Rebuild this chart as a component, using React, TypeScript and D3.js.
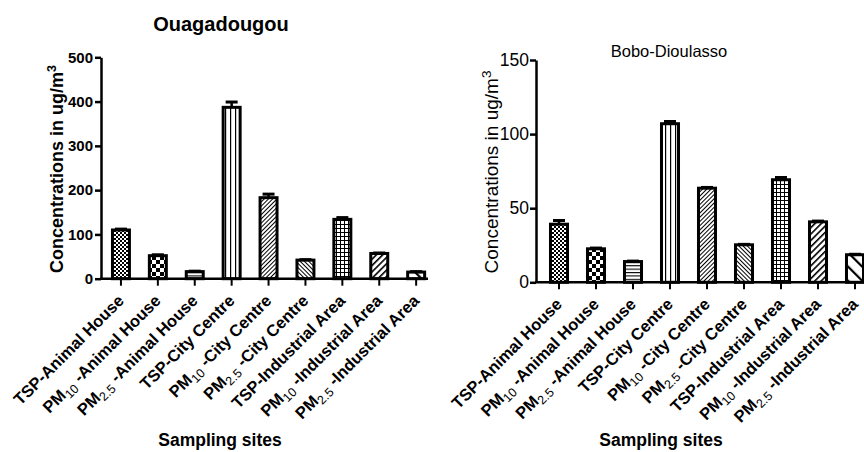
import React, { useEffect, useRef } from "react";
import * as d3 from "d3";

// sampling sites (same order in both cities)
const sites = [
  "TSP-Animal House",
  "PM10 -Animal House",
  "PM2.5 -Animal House",
  "TSP-City Centre",
  "PM10 -City Centre",
  "PM2.5 -City Centre",
  "TSP-Industrial Area",
  "PM10 -Industrial Area",
  "PM2.5 -Industrial Area",
];

// Ouagadougou concentrations (ug/m3) and SEM
const ouagaMeans = [110, 52, 16, 387, 183, 42, 134, 57, 15];
const ouagaErrs = [2, 2, 1, 12, 8, 1, 4, 1, 1];
const ouagaTicks = [0, 100, 200, 300, 400, 500];

// Bobo-Dioulasso concentrations (ug/m3) and SEM
const boboMeans = [39.2, 22.6, 14, 107, 63.5, 25.3, 69.2, 40.8, 18.6];
const boboErrs = [2.5, 0.5, 0.3, 1.5, 0.5, 0.3, 1.5, 0.5, 0.3];
const boboTicks = [0, 50, 100, 150];

const patternIds = ["pFineChk", "pBigChk", "pHLines", "pVLines", "pDiagF", "pBackF", "pGrid", "pDiagM", "pBackW"];

const FONT = "'Liberation Sans', Arial, Helvetica, sans-serif";

function splitLabel(s) {
  const m = s.match(/^PM(10|2\.5)(.*)$/);
  if (!m) return { head: s, sub: "", tail: "" };
  return { head: "PM", sub: m[1], tail: m[2] };
}

function addPatterns(defs) {
  const mk = (id, w, h, rot) => {
    const p = defs
      .append("pattern")
      .attr("id", id)
      .attr("patternUnits", "userSpaceOnUse")
      .attr("width", w)
      .attr("height", h);
    if (rot) p.attr("patternTransform", `rotate(${rot})`);
    p.append("rect").attr("width", w).attr("height", h).attr("fill", "#fff");
    return p;
  };
  let p = mk("pFineChk", 4, 4);
  p.append("rect").attr("width", 2).attr("height", 2).attr("fill", "#000");
  p.append("rect").attr("x", 2).attr("y", 2).attr("width", 2).attr("height", 2).attr("fill", "#000");

  p = mk("pBigChk", 8, 8);
  p.append("rect").attr("width", 4).attr("height", 4).attr("fill", "#000");
  p.append("rect").attr("x", 4).attr("y", 4).attr("width", 4).attr("height", 4).attr("fill", "#000");

  p = mk("pHLines", 4, 3.4);
  p.append("rect").attr("width", 4).attr("height", 1.1).attr("fill", "#000");

  p = mk("pVLines", 5, 4);
  p.append("rect").attr("width", 1.2).attr("height", 4).attr("fill", "#000");

  p = mk("pDiagF", 3, 3, 45);
  p.append("rect").attr("width", 1).attr("height", 3).attr("fill", "#000");

  p = mk("pBackF", 3, 3, -45);
  p.append("rect").attr("width", 1).attr("height", 3).attr("fill", "#000");

  p = mk("pGrid", 4, 4);
  p.append("rect").attr("width", 4).attr("height", 1).attr("fill", "#000");
  p.append("rect").attr("width", 1).attr("height", 4).attr("fill", "#000");

  p = mk("pDiagM", 4.5, 4.5, 45);
  p.append("rect").attr("width", 1.6).attr("height", 4.5).attr("fill", "#000");

  p = mk("pBackW", 10, 10, -45);
  p.append("rect").attr("width", 2.2).attr("height", 10).attr("fill", "#000");
}

function drawPanel(svg, cfg) {
  const { means, errs, ticks, yMax, axisX, y0, yTop, xStart, step, xEnd, bold } = cfg;
  const g = svg.append("g");

  const x = d3
    .scaleBand()
    .domain(sites)
    .range([xStart, xStart + step * sites.length])
    .paddingInner(0.54)
    .paddingOuter(0.27);
  const y = d3.scaleLinear().domain([0, yMax]).range([y0, yTop]);

  // bars
  g.selectAll("rect.bar")
    .data(sites)
    .enter()
    .append("rect")
    .attr("class", "bar")
    .attr("x", (d) => x(d))
    .attr("width", x.bandwidth())
    .attr("y", (d, i) => y(means[i]))
    .attr("height", (d, i) => y0 - y(means[i]))
    .attr("fill", (d, i) => `url(#${patternIds[i]})`)
    .attr("stroke", "#000")
    .attr("stroke-width", 3);

  // error bars
  sites.forEach((d, i) => {
    const cx = x(d) + x.bandwidth() / 2;
    g.append("line")
      .attr("x1", cx)
      .attr("x2", cx)
      .attr("y1", y(means[i]))
      .attr("y2", y(means[i] + errs[i]))
      .attr("stroke", "#000")
      .attr("stroke-width", 2.5);
    g.append("line")
      .attr("x1", cx - 6)
      .attr("x2", cx + 6)
      .attr("y1", y(means[i] + errs[i]))
      .attr("y2", y(means[i] + errs[i]))
      .attr("stroke", "#000")
      .attr("stroke-width", 3);
  });

  // y axis
  const yAxis = g
    .append("g")
    .attr("transform", `translate(${axisX},0)`)
    .call(d3.axisLeft(y).tickValues(ticks).tickSize(6).tickSizeOuter(0).tickPadding(bold ? 2 : 1));
  yAxis.select(".domain").attr("stroke-width", 2.5);
  yAxis.selectAll(".tick line").attr("stroke-width", 2.5);
  yAxis
    .selectAll(".tick text")
    .attr("font-family", FONT)
    .attr("font-size", bold ? 15 : 17.5)
    .attr("font-weight", bold ? "bold" : "normal")
    .attr("fill", "#000");

  // x axis
  g.append("line")
    .attr("x1", axisX - 1)
    .attr("x2", xEnd)
    .attr("y1", y0)
    .attr("y2", y0)
    .attr("stroke", "#000")
    .attr("stroke-width", 2.5);
  const xAxis = g
    .append("g")
    .attr("transform", `translate(0,${y0})`)
    .call(d3.axisBottom(x).tickSize(7).tickSizeOuter(0).tickFormat(() => ""));
  xAxis.select(".domain").remove();
  xAxis.selectAll(".tick line").attr("stroke-width", 2);

  // rotated category labels
  sites.forEach((d) => {
    const cx = x(d) + x.bandwidth() / 2;
    const parts = splitLabel(d);
    const t = g
      .append("text")
      .attr("transform", `translate(${cx + 4},${y0 + 23}) rotate(-45)`)
      .attr("text-anchor", "end")
      .attr("font-family", FONT)
      .attr("font-size", 16.5)
      .attr("font-weight", "bold")
      .attr("fill", "#000");
    t.append("tspan").text(parts.head);
    if (parts.sub) {
      t.append("tspan").attr("dy", 4).attr("font-size", 12.5).attr("font-weight", "normal").text(parts.sub);
      t.append("tspan").attr("dy", -4).text(parts.tail);
    }
  });

  // axis titles
  const yl = g
    .append("text")
    .attr("transform", `translate(${cfg.yLabelX},${cfg.yLabelY}) rotate(-90)`)
    .attr("text-anchor", "middle")
    .attr("font-family", FONT)
    .attr("font-size", bold ? 18 : 19)
    .attr("font-weight", bold ? "bold" : "normal");
  yl.append("tspan").text("Concentrations in ug/m");
  yl.append("tspan").attr("dy", -7).attr("font-size", bold ? 12.5 : 13.5).text("3");

  g.append("text")
    .attr("x", cfg.xLabelX)
    .attr("y", 446)
    .attr("text-anchor", "middle")
    .attr("font-family", FONT)
    .attr("font-size", 17.5)
    .attr("font-weight", "bold")
    .text("Sampling sites");

  g.append("text")
    .attr("x", cfg.titleX)
    .attr("y", cfg.titleY)
    .attr("text-anchor", "middle")
    .attr("font-family", FONT)
    .attr("font-size", bold ? 20 : 16.5)
    .attr("font-weight", bold ? "bold" : "normal")
    .text(cfg.title);
}

export default function App() {
  const ref = useRef(null);

  useEffect(() => {
    const svg = d3.select(ref.current);
    svg.selectAll("*").remove();
    addPatterns(svg.append("defs"));

    drawPanel(svg, {
      title: "Ouagadougou",
      titleX: 221,
      titleY: 31,
      means: ouagaMeans,
      errs: ouagaErrs,
      ticks: ouagaTicks,
      yMax: 500,
      axisX: 101,
      y0: 278.7,
      yTop: 57.3,
      xStart: 102.5,
      step: 36.9,
      xEnd: 428,
      bold: true,
      yLabelX: 63,
      yLabelY: 169,
      xLabelX: 220,
    });

    drawPanel(svg, {
      title: "Bobo-Dioulasso",
      titleX: 669,
      titleY: 57,
      means: boboMeans,
      errs: boboErrs,
      ticks: boboTicks,
      yMax: 150,
      axisX: 536,
      y0: 282.3,
      yTop: 60,
      xStart: 540.5,
      step: 37,
      xEnd: 870,
      bold: false,
      yLabelX: 498,
      yLabelY: 172,
      xLabelX: 661,
    });
  }, []);

  return (
    <svg
      ref={ref}
      width={864}
      height={452}
      style={{ position: "absolute", left: 0, top: 0, background: "#fff" }}
    />
  );
}
